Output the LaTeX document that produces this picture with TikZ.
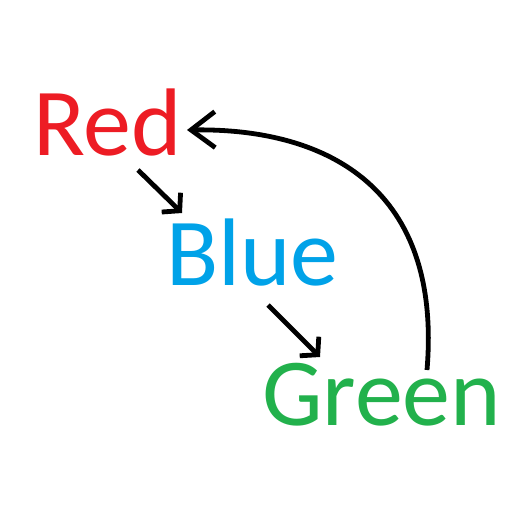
\documentclass[tikz,border=0pt]{standalone}
\usepackage{fontspec}
\setmainfont{Carlito}
\usetikzlibrary{arrows.meta}
\definecolor{pred}{HTML}{ED1C24}
\definecolor{pblue}{HTML}{00A2E8}
\definecolor{pgreen}{HTML}{22B14C}
\begin{document}
\begin{tikzpicture}[x=1pt,y=-1pt,
  word/.style={inner sep=0pt, anchor=base west, font=\fontsize{96}{100}\selectfont},
  arr/.style={line width=4.8pt, -{Straight Barb[length=12pt,width=27pt]}},
  bigarr/.style={line width=4.8pt, -{Straight Barb[length=24pt,width=36pt]}}]
\useasboundingbox (0,0) rectangle (512,512);
\node[word, text=pred] (red) at (33,155) {Red};
\node[word, text=pblue] (blue) at (166,285) {Blue};
\node[word, text=pgreen] (green) at (262,425) {Green};
\draw[arr] ([shift={(105,15)}]red.base west) -- ([shift={(16,-72)}]blue.base west);
\draw[arr] ([shift={(102,20)}]blue.base west) -- ([shift={(58,-68)}]green.base west);
\draw[bigarr] ([shift={(165,-55)}]green.base west) .. controls (442,190) and (330,128) .. ([shift={(154,-25)}]red.base west);
\end{tikzpicture}
\end{document}
